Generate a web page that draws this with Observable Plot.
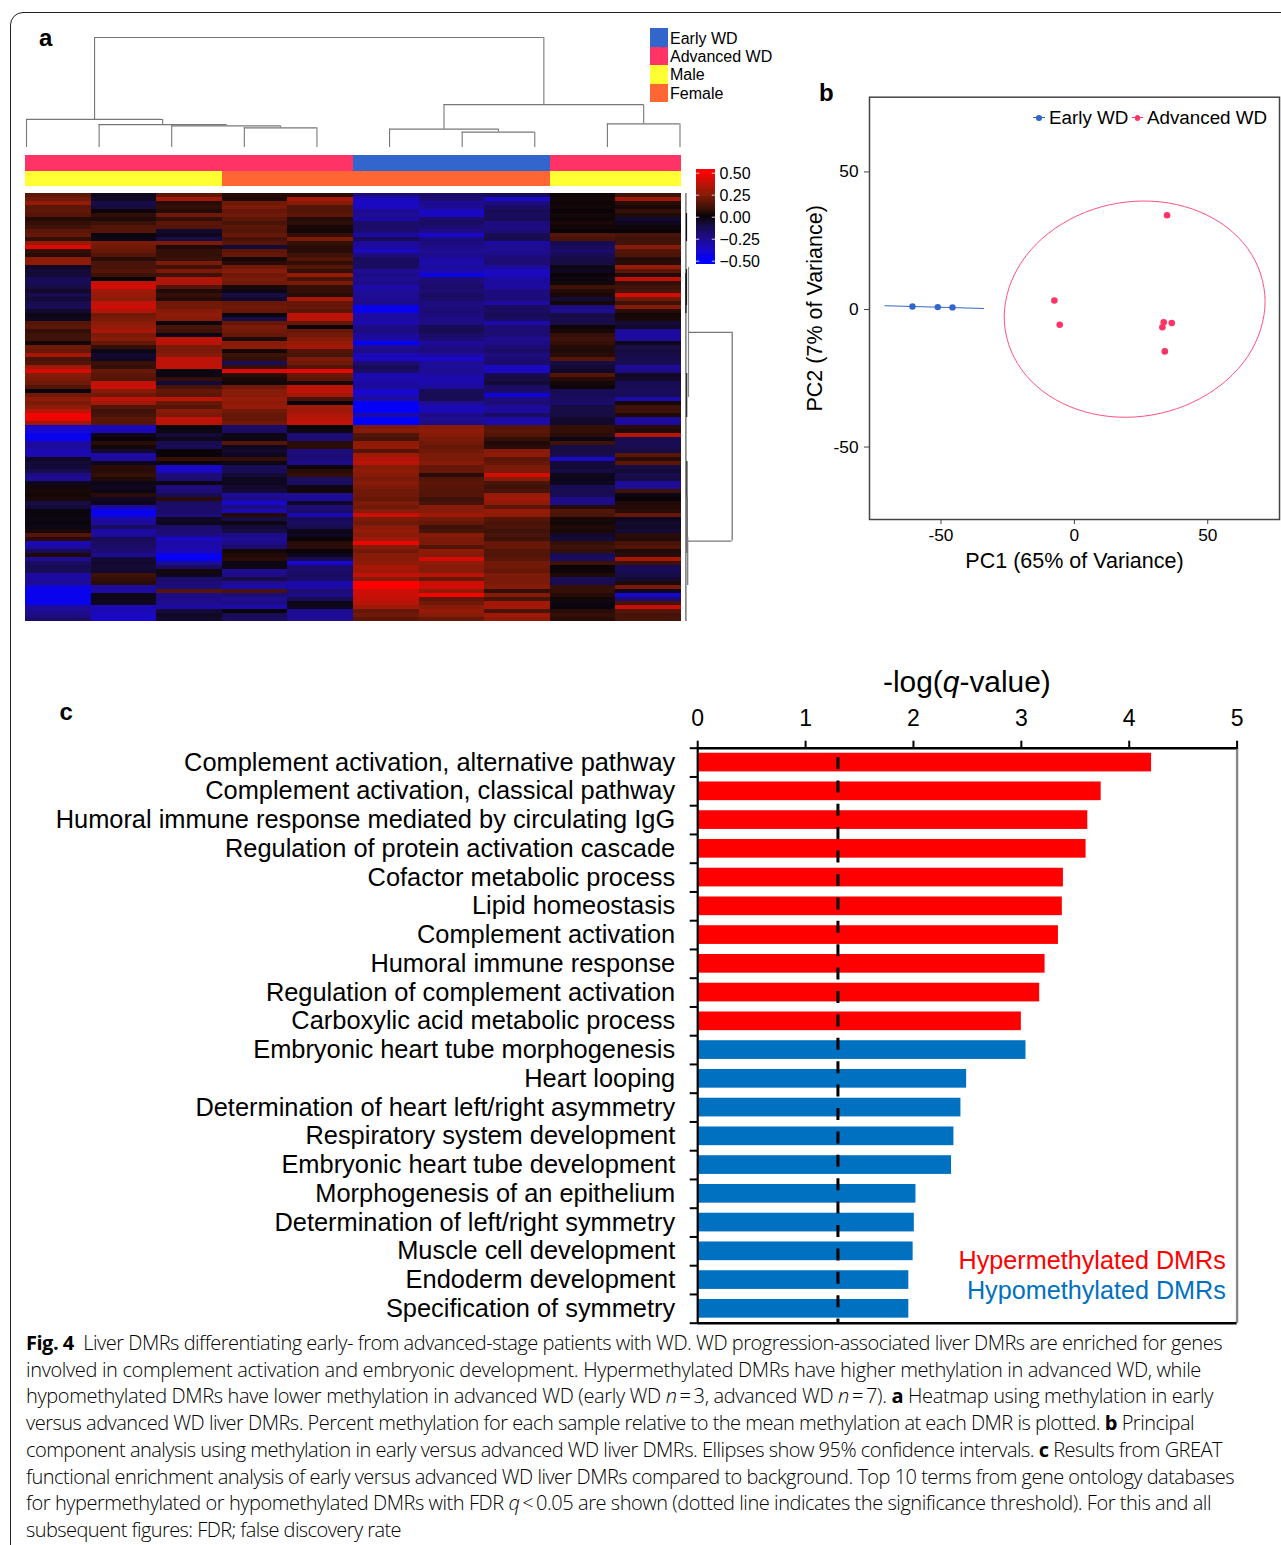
<!DOCTYPE html>
<html><head><meta charset="utf-8">
<script src="https://cdn.jsdelivr.net/npm/d3@7"></script>
<script src="https://cdn.jsdelivr.net/npm/@observablehq/plot@0.6"></script>
<style>
html,body{margin:0;padding:0;background:#fff;overflow:hidden}
#page{position:relative;width:1281px;height:1545px;overflow:hidden;font-family:"Liberation Sans",Arial,sans-serif;color:#000}
#frame{position:absolute;left:9.5px;top:12px;width:1400px;height:1700px;border:1.2px solid #222;border-radius:13px 0 0 0;box-sizing:border-box}
.slot{position:absolute}
.slot svg{display:block;max-width:none;background:transparent}
.lbl{position:absolute;white-space:nowrap;line-height:0}
.cap{position:absolute;left:26px;white-space:nowrap;font-family:"Open Sans","Noto Sans",sans-serif;font-size:20px;line-height:0;color:#000;font-weight:300}
.cap b{font-weight:700}.cap i{font-style:italic}
</style></head><body><div id="page"><div id="frame"></div></div>
<script>
/* ---------- panel a: samples ---------- */
const samples=["S1","S2","S3","S4","S5","S6","S7","S8","S9","S10"];
const sampleGroup=["Advanced WD","Advanced WD","Advanced WD","Advanced WD","Advanced WD","Early WD","Early WD","Early WD","Advanced WD","Advanced WD"];
const sampleSex=["Male","Male","Male","Female","Female","Female","Female","Female","Male","Male"];
const annotationNames=["Early WD","Advanced WD","Male","Female"];
const annotationColors=["#3366cc","#ff3366","#ffff33","#ff6633"];
/* sample dendrogram merges: left node, right node, height. Leaves are 0-9, merged nodes are "m"+index */
const sampleMerges=[[3,4,19.7],[2,"m0",21.7],[1,"m1",23],[0,"m2",28.2],[6,7,15.4],[5,"m4",18.4],[8,9,23.7],["m5","m6",43],["m3","m7",110.4]];
/* gene dendrogram: branch height, first row, last row, shade */
const rowBranches=[[0.4,0,107,"#555"],[1,5,12,"#111"],[1,19,28,"#222"],[1.2,45,56,"#222"],[3,18.5,51,"#888"],[1.4,67,76,"#222"],[1.6,76,90,"#333"],[2.2,86,98,"#777"],[0.4,20,30,"#111"]];
const rowJoins=[[3,46.7,34.7],[1.5,46.7,86.9]];
const rowTrunk=[46.7,34.7,86.9];
/* methylation relative to DMR mean, hundredths, one row per band */
const heatRows=[
[16,-4,16,5,6,-22,-18,-14,1,10],[20,-5,30,4,32,-36,-20,-38,2,30],[27,-11,6,20,24,-37,-27,-22,1,6],[16,-9,8,22,14,-36,-26,-18,2,3],
[17,1,5,18,14,-27,-36,-14,0,8],[15,7,20,20,16,-26,-37,-15,2,4],[5,4,8,16,5,-30,-18,-14,1,-7],[8,9,16,12,7,-18,-16,-22,3,-4],
[10,14,14,16,3,-18,-20,-23,2,1],[16,14,-6,14,2,-19,-24,-20,0,0],[18,-1,-4,18,8,-30,-38,-14,14,12],[8,-2,-10,12,22,-14,-22,-12,12,10],
[28,22,22,15,8,-28,-22,-30,-12,11],[44,20,4,-8,6,-30,-24,-26,-15,24],[8,18,8,16,6,-36,-26,-26,-18,14],[6,14,8,18,10,-22,-25,-24,-14,13],
[25,6,9,2,14,-15,-30,-20,-10,5],[26,12,22,6,8,-16,-32,-20,-10,6],[-5,12,10,20,14,-16,-28,-28,-2,28],[-8,14,22,24,8,-26,-32,-36,-4,16],
[-8,10,10,20,28,-24,-44,-36,0,5],[-14,0,34,22,12,-26,-20,-30,-2,38],[-14,38,34,20,22,-24,-20,-28,2,8],[-10,42,14,3,8,-32,-18,-30,10,10],
[-6,30,4,-2,8,-28,-20,-22,5,12],[-12,28,8,-10,6,-26,-16,-22,3,42],[-8,26,5,-6,32,-27,-18,-20,-8,20],[-12,38,20,18,18,-24,-22,-30,2,10],
[-14,40,20,20,18,-46,-22,-16,-22,24],[-6,34,24,18,16,-46,-20,-16,-26,6],[-2,20,26,-1,38,-30,-22,-14,-10,2],[-4,22,24,-10,36,-30,-24,-16,-12,3],
[14,25,-1,18,18,-32,-23,-32,-10,-8],[16,28,12,22,-1,-24,-14,-20,1,-6],[8,32,10,20,18,-22,-13,-20,3,-28],[10,22,-2,18,20,-28,-18,-20,8,-30],
[10,24,38,4,24,-30,-20,-26,10,-28],[2,18,36,24,28,-48,-28,-24,8,-4],[20,8,22,26,32,-26,-24,-20,5,-10],[18,-2,22,2,14,-24,-22,-18,4,-9],
[32,-6,24,10,12,-34,-30,-22,6,-11],[12,-5,38,8,22,-36,-38,-20,14,-12],[14,9,36,-14,20,-20,-26,-18,-10,-13],[30,8,38,8,14,-14,-28,-36,-8,-28],
[42,18,-1,44,46,-18,-26,-36,-5,-24],[24,16,-2,6,18,-33,-30,-12,14,-5],[22,14,8,3,16,-32,-32,-10,6,-6],[20,38,-8,2,3,-30,-32,-8,2,-14],
[14,40,12,20,36,-28,-28,-16,1,-13],[-1,24,18,24,38,-40,-14,-18,-14,-15],[20,20,16,24,30,-36,-13,-42,-14,-14],[26,38,36,28,12,-28,-14,-22,-16,-32],
[22,30,18,26,0,-48,-26,-20,-18,2],[25,14,15,28,30,-48,-34,-28,-10,10],[36,10,24,20,30,-50,-34,-28,-10,10],[48,12,22,18,34,-30,-24,-16,-10,4],
[46,16,38,18,36,-50,-26,-30,-6,-28],[30,14,36,20,38,-50,-24,-32,-6,-30],[-38,-34,-1,-18,0,22,24,14,8,6],[-40,-34,-2,-16,-2,24,26,16,8,4],
[-46,-3,-8,-2,-20,14,24,14,6,36],[-46,0,-4,-2,-20,12,22,8,-2,-12],[-30,6,-12,15,6,26,20,4,10,-14],[-28,2,-14,-4,6,28,18,6,-10,-12],
[-34,-6,0,-6,-22,14,20,24,-10,-10],[-32,-30,0,-4,-20,30,22,26,-12,16],[-5,-28,8,8,-22,35,22,16,-38,6],[-8,-4,-1,-2,-24,36,24,18,-8,16],
[-8,6,-38,-14,-1,24,18,22,-8,-10],[-12,6,-36,-14,6,26,18,22,-10,-8],[-24,8,-20,-8,8,24,6,42,-3,-12],[-26,4,-20,-4,-16,22,14,24,-3,-10],
[-4,-2,-2,-4,-16,24,16,12,-4,-28],[2,-4,-22,-6,-2,22,15,10,-14,-26],[3,-2,-20,-8,2,20,14,12,-12,10],[2,6,-14,-28,-26,20,14,28,-14,-2],
[3,-5,6,-24,-28,18,10,30,-24,0],[-10,-3,-16,-40,-5,22,12,26,-24,4],[-8,-30,-18,-22,-20,20,24,16,5,5],[-1,-46,-18,-34,-18,24,24,28,14,6],
[-1,-46,-20,5,-34,40,30,26,12,18],[-2,-30,-5,-10,-14,22,20,15,3,-4],[-1,-28,-4,-2,-16,20,18,12,2,-6],[-2,-16,-18,-8,-12,24,10,13,4,-5],
[3,-30,-20,-10,-3,28,12,10,3,-8],[14,-28,-22,-24,-4,24,24,12,-6,6],[6,-14,-38,-26,0,30,22,10,-8,5],[-34,-16,-30,-24,6,46,22,18,8,12],
[-30,-18,-32,-18,6,24,14,18,10,14],[-14,-20,-34,2,0,20,26,14,8,4],[4,-26,-46,4,-4,24,24,14,-14,6],[-26,-8,-48,6,-12,24,42,16,-16,32],
[-16,-6,-28,-2,-40,26,26,20,10,10],[-14,-8,-16,-2,-18,32,24,20,0,-14],[-14,-6,2,-26,-18,30,24,18,1,-14],[-30,10,-4,-24,-16,38,36,22,4,-10],
[-30,8,-18,-10,-18,24,18,22,-14,-8],[-26,6,-20,-26,-32,50,40,22,-12,4],[-44,-28,-22,-32,-30,50,42,24,8,22],[-46,-30,14,12,-20,40,26,8,8,-4],
[-46,-2,-24,-20,-24,40,48,24,5,-40],[-46,-3,-24,-26,-14,38,16,12,2,-20],[-46,-4,-26,-24,-2,36,20,30,-2,12],[-28,-34,-30,-32,-4,30,24,32,-1,40],
[-26,-34,-8,0,-26,18,28,12,6,14],[-24,-36,-5,-14,-28,20,24,30,8,12],[-18,-38,-6,-16,-26,16,18,26,6,12]];
const colorbarTicks=[0.5,0.25,0,-0.25,-0.5];
const heatStops=[-50,-38,-25,-10,0,10,25,38,50];
const heatStopColors=["#0000ff","#1a08c8","#1e0c8c","#170c44","#0a0408","#3e1208","#8a1c08","#c01208","#ff0000"];
/* ---------- panel b: PCA ---------- */
const earlyPC1=[-60.7,-51.2,-45.7], earlyPC2=[0.7,0.5,0.4];
const advPC1=[34.75,-7.5,-5.5,33.5,33,36.5,33.9], advPC2=[33.9,2.9,-5.9,-5,-6.8,-5.3,-15.6];
const earlyEllipsePC1=[-71,-52,-34], earlyEllipsePC2=[1,0.5,0];
const advEllipsePC1=[71.5,69.8,65,57.2,47.05,35.27,22.6,9.93,-1.85,-12,-19.75,-24.6,-26.3,-24.6,-19.75,-12,-1.85,9.93,22.6,35.27,47.05,57.2,65,69.8];
const advEllipsePC2=[2.57,12.62,21.79,29.47,35.12,38.36,38.96,36.9,32.3,25.49,16.93,7.2,-3.05,-13.1,-22.27,-29.95,-35.6,-38.84,-39.44,-37.38,-32.78,-25.97,-17.41,-7.68];
/* ---------- panel c: GREAT terms ---------- */
const terms=["Complement activation, alternative pathway","Complement activation, classical pathway","Humoral immune response mediated by circulating IgG","Regulation of protein activation cascade","Cofactor metabolic process","Lipid homeostasis","Complement activation","Humoral immune response","Regulation of complement activation","Carboxylic acid metabolic process","Embryonic heart tube morphogenesis","Heart looping","Determination of heart left/right asymmetry","Respiratory system development","Embryonic heart tube development","Morphogenesis of an epithelium","Determination of left/right symmetry","Muscle cell development","Endoderm development","Specification of symmetry"];
const logQ=[4.207,3.74,3.616,3.60,3.39,3.38,3.344,3.22,3.17,3.0,3.043,2.493,2.44,2.375,2.353,2.023,2.008,1.997,1.957,1.957];
const termGroup=["Hyper","Hyper","Hyper","Hyper","Hyper","Hyper","Hyper","Hyper","Hyper","Hyper","Hypo","Hypo","Hypo","Hypo","Hypo","Hypo","Hypo","Hypo","Hypo","Hypo"];
const significance=1.30;
const captionLines=[
['<b>Fig. 4</b>&nbsp;&nbsp;Liver DMRs differentiating early- from advanced-stage patients with WD. WD progression-associated liver DMRs are enriched for genes',1222],
['involved in complement activation and embryonic development. Hypermethylated DMRs have higher methylation in advanced WD, while',1201],
['hypomethylated DMRs have lower methylation in advanced WD (early WD <i>n</i>&#8201;=&#8201;3, advanced WD <i>n</i>&#8201;=&#8201;7). <b>a</b> Heatmap using methylation in early',1213],
['versus advanced WD liver DMRs. Percent methylation for each sample relative to the mean methylation at each DMR is plotted. <b>b</b> Principal',1194],
['component analysis using methylation in early versus advanced WD liver DMRs. Ellipses show 95% confidence intervals. <b>c</b> Results from GREAT',1222],
['functional enrichment analysis of early versus advanced WD liver DMRs compared to background. Top 10 terms from gene ontology databases',1234],
['for hypermethylated or hypomethylated DMRs with FDR <i>q</i>&#8201;&lt;&#8201;0.05 are shown (dotted line indicates the significance threshold). For this and all',1211],
['subsequent figures: FDR; false discovery rate',401]];

const page=document.getElementById("page");
const FONT='"Liberation Sans",Arial,sans-serif';
function place(node,left,top){const d=document.createElement("div");d.className="slot";d.style.left=left+"px";d.style.top=top+"px";d.appendChild(node);page.appendChild(d);return d;}
function label(html,x,baseline,size,css={}){const d=document.createElement("div");d.className="lbl";d.innerHTML=html;d.style.fontSize=size+"px";d.style.left=x+"px";d.style.top=(baseline-0.3465*size)+"px";Object.assign(d.style,css);page.appendChild(d);return d;}
const base={style:{fontFamily:FONT,background:"transparent",overflow:"visible"}};
const heatColor={type:"linear",domain:heatStops,range:heatStopColors,interpolate:"rgb",clamp:true};

/* sample dendrogram */
const nodeOf=id=>typeof id==="number"?{x:id,h:0}:mergeNodes[+id.slice(1)];
const mergeNodes=[];const dendroH=[],dendroV=[];
sampleMerges.forEach(([a,b,h])=>{const A=nodeOf(a),B=nodeOf(b);dendroH.push({x1:A.x,x2:B.x,y:h});dendroV.push({x:A.x,y1:A.h,y2:h},{x:B.x,y1:B.h,y2:h});mergeNodes.push({x:(A.x+B.x)/2,h});});
place(Plot.plot({...base,width:653.5,height:112,marginLeft:0,marginRight:0,marginTop:1,marginBottom:1,
  x:{domain:[0,9],axis:null},y:{domain:[0,110.4],axis:null},
  marks:[Plot.ruleY(dendroH,{y:"y",x1:"x1",x2:"x2",stroke:"#777",strokeWidth:1.1}),
         Plot.ruleX(dendroV,{x:"x",y1:"y1",y2:"y2",stroke:"#777",strokeWidth:1.1})]}),26,36);

/* annotation strips */
const annotCells=samples.flatMap((s,i)=>[{s,row:"Group",v:sampleGroup[i]},{s,row:"Sex",v:sampleSex[i]}]);
place(Plot.plot({...base,width:656,height:31,margin:0,
  x:{domain:samples,axis:null,padding:0,round:false},y:{domain:["Group","Sex"],axis:null,padding:0,round:false},
  color:{domain:annotationNames,range:annotationColors},
  marks:[Plot.cell(annotCells,{x:"s",y:"row",fill:"v",shapeRendering:"crispEdges"})]}),24.5,155);

/* heatmap */
const heatCells=heatRows.flatMap((r,ri)=>r.map((v,ci)=>({s:samples[ci],row:ri,v})));
const heat=Plot.plot({...base,width:656,height:428,margin:0,
  x:{domain:samples,axis:null,padding:0,round:false},y:{domain:d3.range(heatRows.length),axis:null,padding:0,round:false},
  color:heatColor,
  marks:[Plot.cell(heatCells,{x:"s",y:"row",fill:"v",shapeRendering:"crispEdges"})]});
heat.style.filter="blur(0.45px)";
place(heat,24.5,193);

/* gene dendrogram */
place(Plot.plot({...base,width:60,height:445,marginLeft:5,marginRight:8.3,marginTop:8,marginBottom:9,
  x:{domain:[0,46.7],axis:null},y:{domain:[107,0],axis:null},
  marks:[Plot.ruleX(rowBranches,{x:d=>d[0],y1:d=>d[1],y2:d=>d[2],stroke:d=>d[3],strokeWidth:1.2}),
         Plot.ruleY(rowJoins,{y:d=>d[2],x1:d=>d[0],x2:d=>d[1],stroke:"#777",strokeWidth:1.3}),
         Plot.ruleX([rowTrunk],{x:d=>d[0],y1:d=>d[1],y2:d=>d[2],stroke:"#777",strokeWidth:1.3})]}),679.5,184.5);

/* colour bar */
const barSteps=d3.range(-0.54,0.54,0.01);
place(Plot.plot({...base,width:85,height:93.4,marginLeft:0,marginRight:66,marginTop:0,marginBottom:0,
  x:{domain:[0,1],axis:null},y:{domain:[-0.5307,0.5307],ticks:5},
  color:{...heatColor,domain:heatStops.map(d=>d/100)},
  marks:[Plot.rect(barSteps,{x1:()=>0,x2:()=>1,y1:d=>d,y2:d=>d+0.011,fill:d=>d,shapeRendering:"crispEdges"}),
         Plot.ruleY(colorbarTicks,{x1:()=>0,x2:()=>0.17,stroke:"#ccc",strokeWidth:1}),
         Plot.ruleY(colorbarTicks,{x1:()=>0.83,x2:()=>1,stroke:"#ccc",strokeWidth:1}),
         Plot.axisY({anchor:"right",ticks:colorbarTicks,tickSize:0,tickPadding:4,tickFormat:d3.format(".2f"),label:null,fontSize:16,fill:"#000",dy:1})]}),696.4,170.3);

/* annotation legend */
annotationNames.forEach((n,i)=>{const b=document.createElement("div");
  b.style.cssText=`position:absolute;left:649.5px;top:${28.3+i*18.5}px;width:18.5px;height:18.5px;background:${annotationColors[i]}`;page.appendChild(b);
  label(n,670,44.2+i*18.4,16);});

/* panel b */
const earlyPts=earlyPC1.map((x,i)=>({x,y:earlyPC2[i]})),advPts=advPC1.map((x,i)=>({x,y:advPC2[i]}));
place(Plot.plot({...base,width:481,height:490,marginLeft:69,marginRight:2,marginTop:6.7,marginBottom:61,
  x:{domain:[-76.8,76.9]},y:{domain:[-76.7,76.8]},
  marks:[Plot.frame({stroke:"#444",strokeWidth:1.5}),
    Plot.line(earlyEllipsePC1.map((x,i)=>({x,y:earlyEllipsePC2[i]})),{x:"x",y:"y",stroke:"#3366cc",strokeWidth:1}),
    Plot.line(advEllipsePC1.map((x,i)=>({x,y:advEllipsePC2[i]})),{x:"x",y:"y",stroke:"#ff3366",strokeWidth:1,strokeOpacity:0.85,curve:"catmull-rom-closed"}),
    Plot.dot(earlyPts,{x:"x",y:"y",r:3.2,fill:"#3366cc"}),
    Plot.dot(advPts,{x:"x",y:"y",r:3.3,fill:"#ff3366"}),
    Plot.axisX({ticks:[-50,0,50],tickSize:5,tickPadding:4,tickFormat:d=>String(d),label:null,fontSize:17.3,stroke:"#444",fill:"#000"}),
    Plot.axisY({ticks:[-50,0,50],tickSize:5,tickPadding:6,tickFormat:d=>String(d),label:null,fontSize:17.3,stroke:"#444",fill:"#000",dy:1}),
    Plot.text(["PC1 (65% of Variance)"],{frameAnchor:"bottom",lineAnchor:"middle",textAnchor:"middle",dy:42,fontSize:21.5,fill:"#000"}),
    Plot.text(["PC2 (7% of Variance)"],{frameAnchor:"left",lineAnchor:"middle",textAnchor:"middle",rotate:-90,dx:-54,fontSize:21.5,fill:"#000"})
  ]}),800,90);
label("Early WD",1049,125,18.8);label("Advanced WD",1147,125,18.8);
[[1033.3,"#3366cc"],[1131.7,"#ff3366"]].forEach(([x,c])=>{
  const l=document.createElement("div");l.style.cssText=`position:absolute;left:${x}px;top:117.2px;width:11.5px;height:1.2px;background:${c}`;page.appendChild(l);
  const o=document.createElement("div");o.style.cssText=`position:absolute;left:${x+3}px;top:115px;width:5.6px;height:5.6px;border-radius:50%;background:${c}`;page.appendChild(o);});

/* panel c */
const idx=d3.range(terms.length);
place(Plot.plot({...base,width:1281,height:670,marginLeft:697.2,marginRight:44.4,marginTop:87.7,marginBottom:7.3,
  x:{domain:[0,5]},y:{domain:[20,0]},
  color:{domain:["Hyper","Hypo"],range:["#ff0000","#0070c0"]},
  marks:[
    Plot.rect(idx,{x1:()=>0,x2:i=>logQ[i],y1:i=>i+0.175,y2:i=>i+0.825,fill:i=>termGroup[i]}),
    Plot.ruleX([significance],{stroke:"#000",strokeWidth:3,strokeDasharray:"12,11.4",strokeDashoffset:-9.3}),
    Plot.ruleX([5],{stroke:"#888",strokeWidth:2.4}),
    Plot.ruleX([0],{stroke:"#000",strokeWidth:2.2}),
    Plot.ruleY([0,20],{stroke:"#000",strokeWidth:2.6}),
    Plot.axisX({anchor:"top",ticks:[0,1,2,3,4,5],tickSize:8,tickPadding:14,tickFormat:d=>String(d),label:null,fontSize:23,strokeWidth:2,stroke:"#000",fill:"#000"}),
    Plot.axisY({ticks:d3.range(21),tickSize:7.5,tickFormat:()=>"",label:null,strokeWidth:2,stroke:"#000"}),
    Plot.text(idx,{x:()=>0,y:i=>i+0.5,text:i=>terms[i],textAnchor:"end",dx:-22.5,fontSize:25.4,fill:"#000"}),
    Plot.text(["Hypermethylated DMRs"],{x:()=>4.896,y:()=>17.82,textAnchor:"end",fontSize:25.2,fill:"#ff0000"}),
    Plot.text(["Hypomethylated DMRs"],{x:()=>4.896,y:()=>18.86,textAnchor:"end",fontSize:25.2,fill:"#0070c0"})
  ]}),0,660);
label('-log(<i>q</i>-value)',883,692,29.9);

/* panel letters */
label("a",39,46,24,{fontWeight:"700"});label("b",819,101,24,{fontWeight:"700"});label("c",59.5,720,24,{fontWeight:"700"});

/* caption */
captionLines.forEach(([html,right],i)=>{const d=document.createElement("div");d.className="cap";d.innerHTML=html;
  d.style.top=(1343+i*26.7)+"px";page.appendChild(d);
  const w=d.getBoundingClientRect().width,n=d.textContent.length;d.style.letterSpacing=((right-26-w)/n)+"px";});
</script></body></html>
